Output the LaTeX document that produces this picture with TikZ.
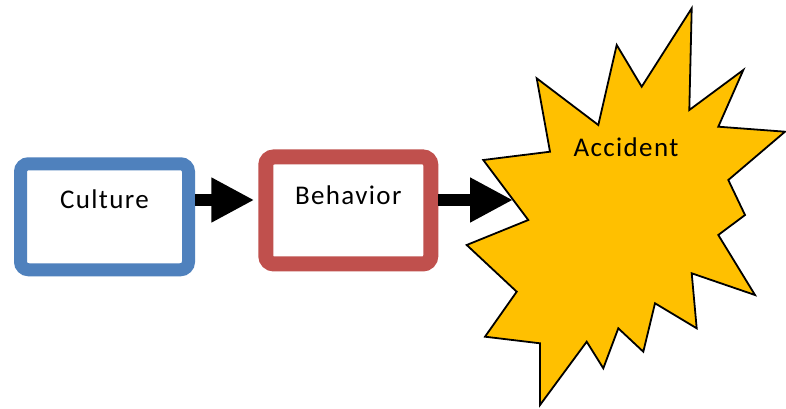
\documentclass[tikz,border=0pt]{standalone}
\usepackage{fontspec}
\setmainfont{Carlito}
\usetikzlibrary{arrows.meta}
\definecolor{cultureblue}{HTML}{4F81BD}
\definecolor{behaviorred}{HTML}{C0504D}
\definecolor{blastgold}{HTML}{FFC000}
\begin{document}
\begin{tikzpicture}[x=1pt,y=-1pt,
  label text/.style={font=\fontsize{27}{32}\selectfont\addfontfeature{LetterSpace=5}},
  box/.style={draw, line width=13pt, rounded corners=8pt, fill=white,
    inner sep=0pt, label text},
  flow/.style={line width=12pt, -{Triangle[length=43pt,width=42pt]}},
  blast/.style={draw=black, line width=1.8pt, fill=blastgold, line join=miter}]
  % canvas
  \fill[white] (0,0) rectangle (786,409);
  \useasboundingbox (0,0) rectangle (786,409);

  % the two process boxes (text set high inside each box)
  \node[box, draw=cultureblue, minimum width=168pt,
        text height=45pt, text depth=61pt] (culture) at (104.5,216.75) {Culture};
  \node[box, draw=behaviorred, line width=15pt, minimum width=165pt,
        text height=48pt, text depth=59pt] (behavior) at (348.3,210.45) {Behavior};

  % the explosion burst
  \draw[blast] (691.7,8.3) -- (689.3,110) -- (743.3,70) -- (718.3,126.7)
    -- (785,131.7) -- (728.3,180) -- (745,215) -- (718.3,235) -- (755,295)
    -- (691.7,273.3) -- (696.7,328.3) -- (655,303.3) -- (643.3,351.7)
    -- (618.3,328.3) -- (603.3,368.3) -- (586.7,341.7) -- (540,405)
    -- (540,343.3) -- (485,336.7) -- (516.7,291.7) -- (466.7,245)
    -- (528.3,220) -- (483.3,160) -- (550,151.7) -- (536.7,78.3)
    -- (598.3,125) -- (616.7,45) -- (641.7,86.7) -- cycle;
  \node[label text, anchor=base] (accident) at (626,156) {Accident};
  \coordinate (impact) at (513,200);

  % connectors
  \draw[flow, shorten >=4pt] (culture.east |- 0,200) -- (behavior.west |- 0,200);
  \draw[flow] (behavior.east |- 0,200) -- (impact);
\end{tikzpicture}
\end{document}
